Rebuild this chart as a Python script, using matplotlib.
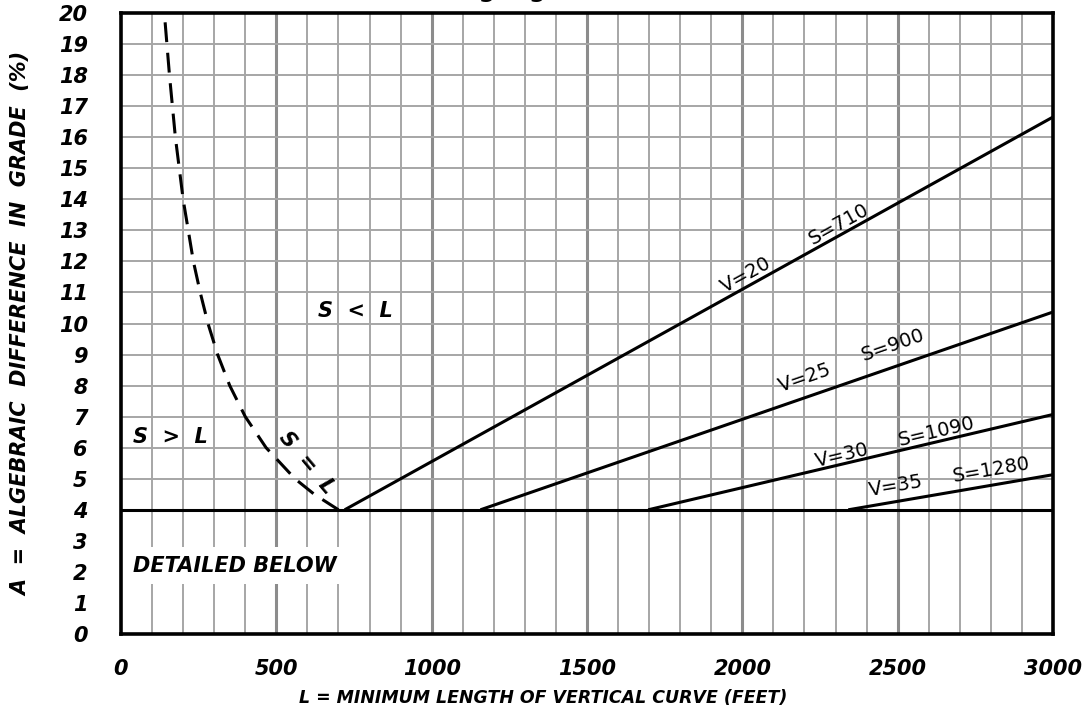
import numpy as np
import matplotlib
matplotlib.use("Agg")
import matplotlib.pyplot as plt

# ---------------- data ----------------
x_ticks = [0, 500, 1000, 1500, 2000, 2500, 3000]
y_ticks = list(range(0, 21))

speeds = [20, 25, 30, 35]
sight = [710, 900, 1090, 1280]
# straight-line segments: (L_start, A_start) -> (L_end, A_end)
line_L_start = [720, 1157, 1697, 2341]
line_A_start = [4, 4, 4, 4]
line_L_end = [3000, 3000, 3000, 3000]
line_A_end = [16.65, 10.37, 7.07, 5.13]

# label positions (L, A) for "V=.." and "S=.." labels
v_label_L = [2012, 2201, 2321, 2495]
v_label_A = [11.55, 8.25, 5.75, 4.77]
s_label_L = [2311, 2485, 2626, 2803]
s_label_A = [13.2, 9.3, 6.5, 5.28]

# dashed S = L boundary
sl_L = [142, 156, 175, 200, 233, 255, 280, 311, 350, 400, 467, 560, 622, 700]
sl_A = [19.7, 18, 16, 14, 12, 11, 10, 9, 8, 7, 6, 5, 4.5, 4]

# ---------------- figure ----------------
W, H = 1084, 711
fig = plt.figure(figsize=(W / 100, H / 100), dpi=100)
ax = fig.add_axes([121 / W, (H - 634) / H, (1053 - 121) / W, (634 - 13) / H])
ax.set_xlim(0, 3000)
ax.set_ylim(0, 20)

# grid
for xv in range(100, 3000, 100):
    if xv % 500 == 0:
        ax.axvline(xv, color="#8c8c8c", lw=2.2, zorder=1)
    else:
        ax.axvline(xv, color="#a6a6a6", lw=1.4, zorder=1)
for yv in range(5, 20):
    ax.axhline(yv, color="#a6a6a6", lw=1.4, zorder=1)

ax.axhline(4, color="black", lw=2.2, zorder=3)

# lines
for i in range(len(speeds)):
    ax.plot([line_L_start[i], line_L_end[i]], [line_A_start[i], line_A_end[i]],
            color="black", lw=2.2, zorder=3, solid_capstyle="butt")
    ang = np.degrees(np.arctan2(line_A_end[i] - line_A_start[i],
                                line_L_end[i] - line_L_start[i]))
    ax.text(v_label_L[i], v_label_A[i], f"V={speeds[i]}", rotation=ang,
            transform_rotates_text=True, rotation_mode="anchor",
            ha="center", va="center", fontsize=14, zorder=4)
    ax.text(s_label_L[i], s_label_A[i], f"S={sight[i]}", rotation=ang,
            transform_rotates_text=True, rotation_mode="anchor",
            ha="center", va="center", fontsize=14, zorder=4)

ax.plot(sl_L, sl_A, color="black", lw=2.2, dashes=(6.5, 3.5), zorder=3)

tfont = dict(fontsize=15, fontweight="bold", fontstyle="italic")
ax.text(634, 10.4, "S  <  L", ha="left", va="center", zorder=4, **tfont)
ax.text(39, 6.35, "S  >  L", ha="left", va="center", zorder=4, **tfont)
ax.text(597, 5.5, "S  =  L", ha="center", va="center", rotation=-50,
        rotation_mode="anchor", zorder=4, **tfont)
ax.text(39, 2.2, "DETAILED BELOW", ha="left", va="center", zorder=4,
        bbox=dict(facecolor="white", edgecolor="none", pad=6), **tfont)

for s in ax.spines.values():
    s.set_linewidth(2.6)
    s.set_zorder(5)

ax.set_xticks(x_ticks)
ax.set_yticks(y_ticks)
ax.tick_params(length=0, pad=18, axis="x")
ax.tick_params(length=0, pad=24, axis="y")
for lab in ax.get_xticklabels() + ax.get_yticklabels():
    lab.set_fontsize(15)
    lab.set_fontweight("bold")
    lab.set_fontstyle("italic")

ax.set_xlabel("L = MINIMUM LENGTH OF VERTICAL CURVE (FEET)",
              fontsize=12.5, fontweight="bold", fontstyle="italic", labelpad=7)
ax.xaxis.set_label_coords((543 - 121) / 932, -0.088)
ax.set_ylabel("A  =  ALGEBRAIC  DIFFERENCE  IN  GRADE  (%)",
              fontsize=15, fontweight="bold", fontstyle="italic", labelpad=20)

fig.text(545 / W, 1 + 3 / H, "(Passing Sight Distance)", ha="center",
         va="baseline", fontsize=17, fontweight="bold")

fig.savefig("out.png", dpi=100)
